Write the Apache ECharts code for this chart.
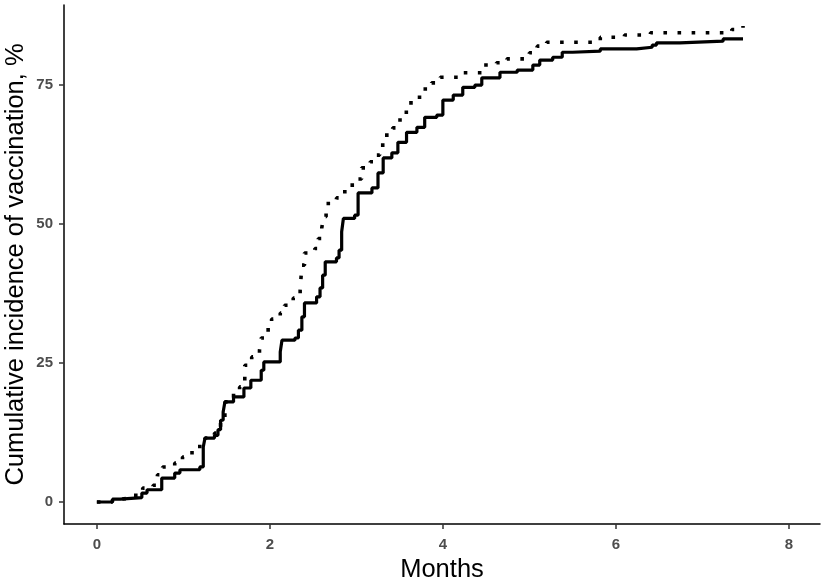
<!DOCTYPE html>
<html>
<head>
<meta charset="utf-8">
<script src="https://cdn.jsdelivr.net/npm/echarts@6/dist/echarts.min.js"></script>
<style>
  html, body { margin: 0; padding: 0; background: #fff; }
  #chart { width: 825px; height: 580px; }
</style>
</head>
<body>
<div id="chart"></div>
<script>
// axis ticks
var xTicks = [0, 2, 4, 6, 8];
var yTicks = [0, 25, 50, 75];

// solid curve: [month, cumulative %]
var solidCurve = [
    [0, 0], [0.18, 0.5], [0.27, 0.8], [0.52, 1.6], [0.58, 2.2], [0.75, 4.3], [0.9, 5.2],
    [0.96, 5.8], [1.19, 6.3], [1.23, 9.9], [1.25, 11.5], [1.36, 12], [1.4, 13], [1.43, 14.7],
    [1.46, 16.2], [1.48, 18], [1.58, 18.9], [1.7, 20.5], [1.78, 21.9], [1.9, 23.7], [1.93, 25.2],
    [2.12, 27], [2.14, 29.1], [2.29, 29.5], [2.33, 30.9], [2.37, 33.3], [2.4, 35.8], [2.54, 36.9],
    [2.58, 38.5], [2.61, 40.8], [2.64, 43.2], [2.77, 43.9], [2.8, 45.3], [2.83, 48.6], [2.85, 51],
    [2.98, 51.6], [3.02, 55.6], [3.18, 56.5], [3.25, 59.2], [3.31, 61.9], [3.41, 62.8], [3.48, 64.7],
    [3.58, 66.5], [3.7, 67.4], [3.79, 69.2], [3.93, 69.6], [4.0, 72.3], [4.12, 73.2], [4.23, 74.6],
    [4.37, 75], [4.45, 76.3], [4.66, 77.3], [4.86, 77.7], [5.04, 78.6], [5.12, 79.5], [5.27, 80],
    [5.38, 80.9], [5.5, 81.1], [5.82, 81.5], [6.24, 81.8], [6.42, 82.2], [6.47, 82.6], [6.74, 82.9],
    [7.24, 83.3], [7.47, 83.3]
];

// dotted curve: [month, cumulative %]
var dottedCurve = [
    [0, 0], [0.18, 0.5], [0.27, 0.8], [0.45, 1.6], [0.53, 2.5], [0.65, 3], [0.7, 4.9], [0.76, 6.3],
    [0.9, 7], [0.99, 8.1], [1.1, 9.4], [1.19, 10.5], [1.25, 11.5], [1.36, 12.4], [1.43, 14.7],
    [1.48, 18], [1.58, 19.5], [1.65, 20.7], [1.71, 24.6], [1.79, 26.1], [1.88, 27.3], [1.9, 29.5],
    [1.98, 31.3], [2.02, 32.9], [2.12, 34], [2.17, 35.4], [2.27, 36.7], [2.35, 38.1], [2.37, 42.6],
    [2.4, 44.8], [2.52, 45.6], [2.56, 47.4], [2.6, 49.3], [2.62, 51.3], [2.65, 53.7], [2.77, 54.7],
    [2.83, 55.8], [2.92, 57], [3.02, 58.1], [3.06, 60.1], [3.16, 61.2], [3.21, 62.4], [3.27, 64.2],
    [3.33, 66], [3.42, 67.3], [3.48, 68.7], [3.54, 70.1], [3.6, 71.8], [3.7, 72.8], [3.77, 74.3],
    [3.87, 75.4], [3.97, 76.4], [4.23, 77.2], [4.46, 78.6], [4.62, 79], [4.74, 79.7], [5.0, 80.8],
    [5.09, 82], [5.2, 82.7], [5.82, 83.6], [6.1, 84], [6.4, 84.4], [7.34, 85], [7.47, 85.6]
];

var chart = echarts.init(document.getElementById('chart'), null, {renderer: 'canvas'});

var tickLabel = {
    color: '#4d4d4d',
    fontFamily: 'Liberation Sans',
    fontWeight: 'bold',
    fontSize: 15
};

var option = {
    backgroundColor: '#fff',
    animation: false,
    grid: {left: 64, right: 5, top: 5, bottom: 56, containLabel: false, outerBoundsMode: 'none'},
    xAxis: {
        type: 'value',
        min: -0.38,
        max: 8.36,
        name: 'Months',
        nameLocation: 'middle',
        nameGap: 33,
        nameMoveOverlap: false,
        nameTextStyle: {color: '#000', fontFamily: 'Liberation Sans', fontSize: 25.5},
        splitLine: {show: false},
        axisLine: {show: true, onZero: false, lineStyle: {color: '#000', width: 1.5}},
        axisTick: {show: true, length: 5, customValues: xTicks, lineStyle: {color: '#333', width: 1.5}},
        axisLabel: Object.assign({margin: 13, customValues: xTicks}, tickLabel)
    },
    yAxis: {
        type: 'value',
        min: -3.96,
        max: 89.4,
        name: 'Cumulative incidence of vaccination, %',
        nameLocation: 'middle',
        nameGap: 35,
        nameMoveOverlap: false,
        nameTextStyle: {color: '#000', fontFamily: 'Liberation Sans', fontSize: 25.5},
        splitLine: {show: false},
        axisLine: {show: true, onZero: false, lineStyle: {color: '#000', width: 1.5}},
        axisTick: {show: true, length: 5, customValues: yTicks, lineStyle: {color: '#333', width: 1.5}},
        axisLabel: Object.assign({margin: 11, customValues: yTicks}, tickLabel)
    },
    series: [
        {
            type: 'line',
            step: 'end',
            data: solidCurve,
            showSymbol: false,
            lineStyle: {color: '#000', width: 3.2, type: 'solid'}
        },
        {
            type: 'line',
            step: 'end',
            data: dottedCurve,
            showSymbol: false,
            lineStyle: {color: '#000', width: 3.6, type: [3.6, 10.5], cap: 'butt'}
        }
    ]
};

chart.setOption(option);
</script>
</body>
</html>
